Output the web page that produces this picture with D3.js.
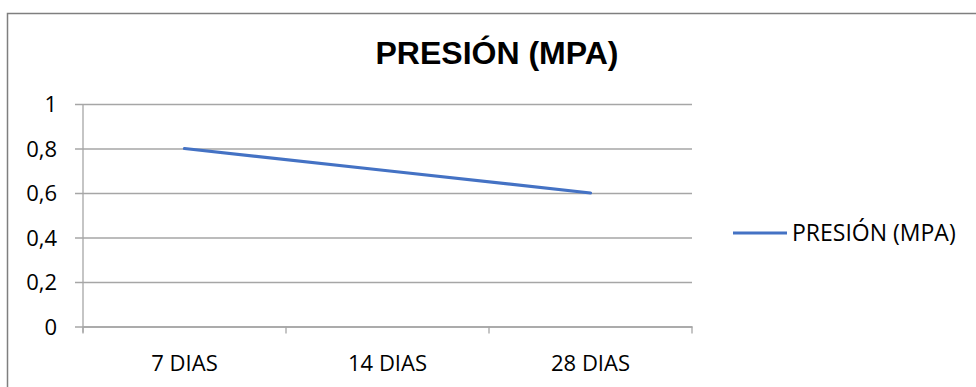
<!DOCTYPE html>
<html>
<head>
<meta charset="utf-8">
<script src="https://cdn.jsdelivr.net/npm/d3@7"></script>
<style>
  body { margin: 0; background: #fff; }
  svg { display: block; }
</style>
</head>
<body>
<svg id="chart-container" width="976" height="387"></svg>
<script>
// data
var categories = ["7 DIAS", "14 DIAS", "28 DIAS"];
var presion = [0.8, 0.7, 0.6];
var yTicks = [0, 0.2, 0.4, 0.6, 0.8, 1];
var seriesName = "PRESIÓN (MPA)";
var title = "PRESIÓN (MPA)";

var svg = d3.select("#chart-container");
var labelFont = "'Open Sans', Lato, sans-serif";

// outer chart frame (right / bottom edges run off the picture)
svg.append("rect")
    .attr("x", 7.5)
    .attr("y", 13.5)
    .attr("width", 1000)
    .attr("height", 400)
    .style("fill", "white")
    .style("stroke", "#7f7f7f")
    .style("stroke-width", 1.5);

var plot = { left: 83, right: 692, top: 104, bottom: 326.5 };

var x = d3.scaleBand()
    .domain(categories)
    .range([plot.left, plot.right]);

var y = d3.scaleLinear()
    .domain([0, 1])
    .range([plot.bottom, plot.top]);

var fmt = function(d) { return String(d).replace(".", ","); };

// gridlines + y axis
var yAxis = svg.append("g")
    .attr("transform", `translate(${plot.left},0)`)
    .call(d3.axisLeft(y)
        .tickValues(yTicks)
        .tickFormat(fmt)
        .tickSize(-(plot.right - plot.left))
        .tickSizeOuter(0));
yAxis.select(".domain").remove();
yAxis.selectAll(".tick line")
    .attr("x1", -8)
    .style("stroke", "#a6a6a6")
    .style("stroke-width", 1.3);
yAxis.selectAll(".tick text")
    .attr("x", -26)
    .attr("dy", "0.36em")
    .style("font-family", labelFont)
    .style("font-size", "22px")
    .style("fill", "#000");

// vertical axis line
svg.append("line")
    .attr("x1", plot.left).attr("x2", plot.left)
    .attr("y1", plot.top).attr("y2", plot.bottom + 6)
    .style("stroke", "#a6a6a6")
    .style("stroke-width", 1.3);

// x axis
var xAxis = svg.append("g")
    .attr("transform", `translate(0,${plot.bottom})`)
    .call(d3.axisBottom(x).tickSize(0).tickSizeOuter(0));
xAxis.select(".domain")
    .style("stroke", "#a6a6a6")
    .style("stroke-width", 1.3);
xAxis.selectAll(".tick text")
    .attr("y", 44)
    .attr("dy", 0)
    .style("font-family", labelFont)
    .style("font-size", "22px")
    .style("fill", "#000");

// category boundary ticks
var bounds = categories.map(function(c) { return x(c); }).concat([x(categories[categories.length - 1]) + x.bandwidth()]);
svg.append("g").selectAll("line")
    .data(bounds)
    .enter()
    .append("line")
    .attr("x1", function(d) { return d; })
    .attr("x2", function(d) { return d; })
    .attr("y1", plot.bottom)
    .attr("y2", plot.bottom + 7)
    .style("stroke", "#a6a6a6")
    .style("stroke-width", 1.3);

// series line
var line = d3.line()
    .x(function(d, i) { return x(categories[i]) + x.bandwidth() / 2; })
    .y(function(d) { return y(d); });

svg.append("path")
    .datum(presion)
    .attr("d", line)
    .style("fill", "none")
    .style("stroke", "#4472c4")
    .style("stroke-width", 3.2)
    .style("stroke-linecap", "round");

// title
svg.append("text")
    .attr("x", 497)
    .attr("y", 64)
    .attr("text-anchor", "middle")
    .style("font-family", "'Liberation Sans', Arial, sans-serif")
    .style("font-weight", "bold")
    .style("font-size", "32px")
    .text(title);

// legend
var legend = svg.append("g")
    .attr("transform", `translate(733, 233)`);
legend.append("line")
    .attr("x1", 0).attr("x2", 54)
    .attr("y1", 0).attr("y2", 0)
    .style("stroke", "#4472c4")
    .style("stroke-width", 3.2);
legend.append("text")
    .attr("x", 59)
    .attr("y", 0)
    .attr("dy", "0.36em")
    .style("font-family", labelFont)
    .style("font-size", "23px")
    .text(seriesName);
</script>
</body>
</html>
